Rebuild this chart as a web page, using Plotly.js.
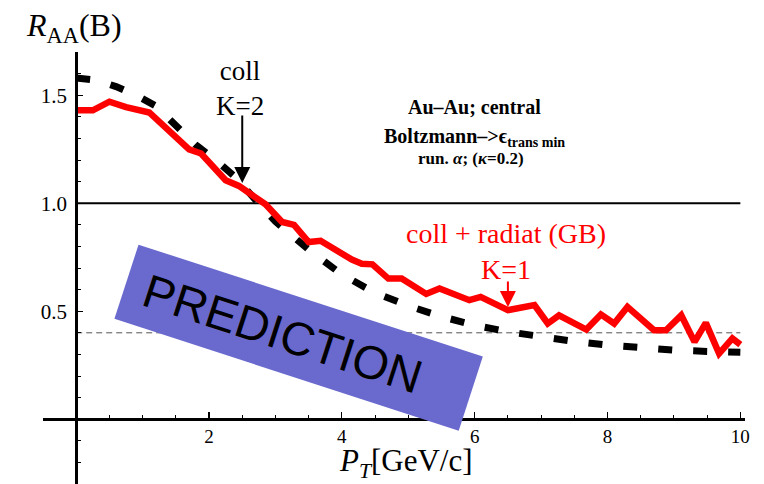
<!DOCTYPE html>
<html><head><meta charset="utf-8">
<script src="https://cdn.plot.ly/plotly-3.0.1.min.js"></script>
<style>html,body{margin:0;padding:0;background:#fff}</style>
</head><body><div id="chart" style="width:764px;height:484px"></div>
<script>
// coll + radiat (GB), K=1  (red, solid)
const radX = [0, 0.25, 0.5, 0.75, 1.1, 1.35, 1.5, 1.7, 1.88, 2.25, 2.45, 2.85, 3.1, 3.28, 3.5, 3.68, 4.15, 4.3, 4.46, 4.7, 4.9, 5.17, 5.27, 5.47, 5.92, 6.09, 6.5, 6.9, 7.1, 7.27, 7.68, 7.9, 8.1, 8.3, 8.48, 8.7, 8.88, 9.11, 9.31, 9.48, 9.68, 9.88, 10.0];
const radY = [1.43, 1.43, 1.47, 1.445, 1.42, 1.346, 1.307, 1.249, 1.23, 1.106, 1.08, 0.995, 0.913, 0.90, 0.82, 0.826, 0.739, 0.72, 0.717, 0.651, 0.651, 0.605, 0.58, 0.605, 0.551, 0.566, 0.505, 0.528, 0.443, 0.481, 0.415, 0.485, 0.443, 0.52, 0.474, 0.412, 0.412, 0.481, 0.358, 0.446, 0.304, 0.374, 0.345];
// coll, K=2 (black, dashed)
const collX = [0, 0.3, 0.6, 0.9, 1.2, 1.5, 1.8, 2.1, 2.4, 2.7, 3.0, 3.5, 4.0, 4.5, 5.0, 5.5, 6.0, 6.5, 7.0, 7.5, 8.0, 8.5, 9.0, 9.5, 10.0];
const collY = [1.58, 1.57, 1.54, 1.50, 1.45, 1.355, 1.27, 1.20, 1.12, 1.015, 0.915, 0.785, 0.67, 0.585, 0.525, 0.475, 0.435, 0.405, 0.38, 0.36, 0.343, 0.33, 0.32, 0.314, 0.31];
const refLevels = [1.0, 0.4];
const xTickVals = [2, 4, 6, 8, 10];
const xTickText = ['2', '4', '6', '8', '10'];
const yTickVals = [0.5, 1.0, 1.5];
const yTickText = ['0.5', '1.0', '1.5'];

const W = 764, H = 484;
const M = {l: 43, r: 19, t: 52, b: 0, pad: 0};
const XR = [-0.5, 10.07], YR = [-0.3, 1.7];
const px = p => (p - M.l) / (W - M.l - M.r);
const py = p => (H - M.b - p) / (H - M.t - M.b);
const serif = 'Liberation Serif';
const sans = 'Liberation Sans';

const traces = [
  {x: collX, y: collY, mode: 'lines', line: {color: '#000', width: 7, dash: '14px,21px'}, hoverinfo: 'skip'},
  {x: radX, y: radY, mode: 'lines', line: {color: '#ff0000', width: 6.5}, hoverinfo: 'skip'}
];

const shapes = [
  {type: 'line', xref: 'x', yref: 'y', x0: 0, x1: 10, y0: refLevels[0], y1: refLevels[0], line: {color: '#000', width: 2}, layer: 'below'},
  {type: 'line', xref: 'x', yref: 'y', x0: 0, x1: 10, y0: refLevels[1], y1: refLevels[1], line: {color: '#555', width: 1, dash: '6px,4px'}, layer: 'below'}
];

const annotations = [
  {xref: 'paper', yref: 'paper', x: px(24), y: py(28), xanchor: 'left', yanchor: 'middle', showarrow: false,
   text: '<i>R</i><sub>AA</sub>(B)', font: {family: serif, size: 32, color: '#000'}},
  {xref: 'paper', yref: 'paper', x: px(406), y: py(463), xanchor: 'center', yanchor: 'middle', showarrow: false,
   text: '<i>P</i><sub><i>T</i></sub>[GeV/c]', font: {family: serif, size: 31, color: '#000'}},
  {xref: 'paper', yref: 'paper', x: px(240), y: py(88), xanchor: 'center', yanchor: 'middle', showarrow: false,
   text: 'coll<br>K=2', font: {family: serif, size: 27, color: '#000'}},
  {xref: 'x', yref: 'y', x: 2.5, y: 1.094, ax: 0, ay: -69, text: '', showarrow: true, arrowhead: 2, arrowsize: 1.6, arrowwidth: 2, arrowcolor: '#000'},
  {xref: 'paper', yref: 'paper', x: px(474), y: py(107), xanchor: 'center', yanchor: 'middle', showarrow: false,
   text: '<b>Au\u2013Au; central</b>', font: {family: serif, size: 20, color: '#000'}},
  {xref: 'paper', yref: 'paper', x: px(474), y: py(137), xanchor: 'center', yanchor: 'middle', showarrow: false,
   text: '<b>Boltzmann\u2013>\u03f5<sub>trans min</sub></b>', font: {family: serif, size: 20, color: '#000'}},
  {xref: 'paper', yref: 'paper', x: px(471), y: py(158), xanchor: 'center', yanchor: 'middle', showarrow: false,
   text: '<b>run. <i>\u03b1</i>; (<i>\u03ba</i>=0.2)</b>', font: {family: serif, size: 17, color: '#000'}},
  {xref: 'paper', yref: 'paper', x: px(506), y: py(252), xanchor: 'center', yanchor: 'middle', showarrow: false,
   text: 'coll + radiat (GB)<br>K=1', font: {family: serif, size: 28, color: '#ff0000'}},
  {xref: 'x', yref: 'y', x: 6.5, y: 0.519, ax: 0, ay: -27, text: '', showarrow: true, arrowhead: 2, arrowsize: 1.6, arrowwidth: 2, arrowcolor: '#ff0000'},
  {xref: 'x', yref: 'y', x: 3.34, y: 0.376, xanchor: 'center', yanchor: 'middle', showarrow: false,
   text: '&nbsp;', width: 361, height: 77, borderpad: 0, bgcolor: 'rgb(106,106,206)', textangle: 18,
   font: {family: sans, size: 10, color: '#000'}},
  {xref: 'x', yref: 'y', x: 3.11, y: 0.399, xanchor: 'center', yanchor: 'middle', showarrow: false,
   text: 'PREDICTION', textangle: 18, font: {family: sans, size: 47, color: '#000'}}
];

const layout = {
  width: W, height: H, margin: M,
  paper_bgcolor: '#fff', plot_bgcolor: '#fff', showlegend: false,
  font: {family: serif, color: '#000'},
  xaxis: {range: XR, anchor: 'free', position: py(419), showline: true, linecolor: '#000', linewidth: 2.5,
    showgrid: false, zeroline: false, tickmode: 'array', tickvals: xTickVals, ticktext: xTickText,
    ticks: 'inside', ticklen: 6, tickwidth: 1.2, tickcolor: '#000', ticklabelstandoff: 0,
    tickfont: {family: serif, size: 19, color: '#000'},
    minor: {tickmode: 'linear', tick0: 0, dtick: 0.5, ticks: 'inside', ticklen: 3.5, tickwidth: 1, tickcolor: '#000', showgrid: false}},
  yaxis: {range: YR, anchor: 'free', position: px(76.2), showline: true, linecolor: '#000', linewidth: 2.5,
    showgrid: false, zeroline: false, tickmode: 'array', tickvals: yTickVals, ticktext: yTickText,
    ticks: 'inside', ticklen: 5, tickwidth: 1.2, tickcolor: '#000', ticklabelstandoff: 4,
    tickfont: {family: serif, size: 21, color: '#000'},
    minor: {tickmode: 'linear', tick0: 0, dtick: 0.1, ticks: 'inside', ticklen: 3.5, tickwidth: 1, tickcolor: '#000', showgrid: false}},
  shapes: shapes,
  annotations: annotations
};

Plotly.newPlot('chart', traces, layout, {displayModeBar: false, staticPlot: true});
</script></body></html>
